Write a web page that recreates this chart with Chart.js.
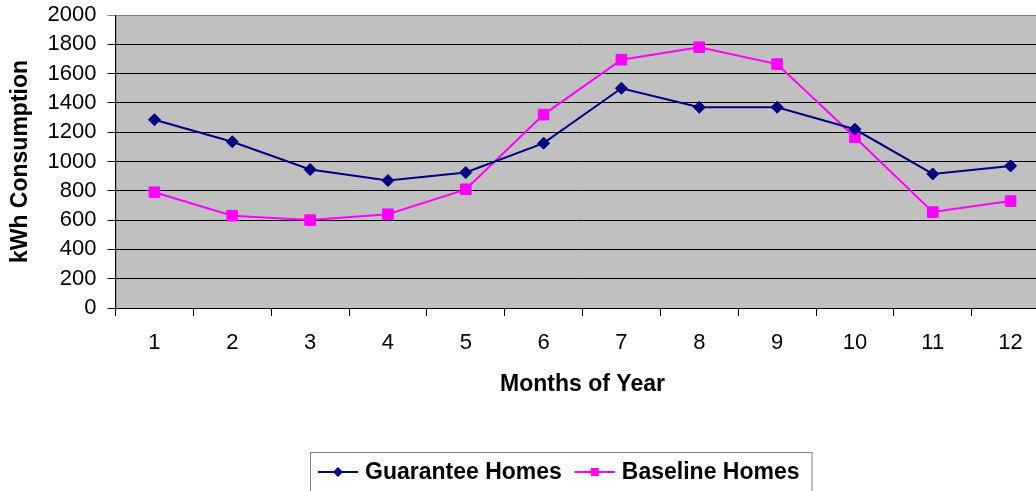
<!DOCTYPE html>
<html>
<head>
<meta charset="utf-8">
<script src="https://cdn.jsdelivr.net/npm/chart.js@4/dist/chart.umd.min.js"></script>
<style>
  html, body { margin: 0; padding: 0; background: #fff; overflow: hidden; }
  canvas { display: block; }
</style>
</head>
<body>
<!-- canvas is a bit wider than the window: the plot area runs past the right edge, as in the original -->
<canvas id="chartKwh" width="1058" height="491"></canvas>
<script>
// data
const months = ["1", "2", "3", "4", "5", "6", "7", "8", "9", "10", "11", "12"];
const guaranteeHomes = [1285, 1135, 945, 870, 925, 1125, 1500, 1370, 1370, 1220, 915, 970];
const baselineHomes = [790, 630, 600, 640, 810, 1320, 1695, 1780, 1665, 1165, 655, 730];
const yTicks = { min: 0, max: 2000, step: 200 };

const FONT = "'Liberation Sans', Arial, sans-serif";

// gray plot background + border
const plotBg = {
  id: "plotBg",
  beforeDraw(chart) {
    const { ctx, chartArea: a } = chart;
    ctx.save();
    ctx.fillStyle = "#C0C0C0";
    ctx.fillRect(a.left, a.top, a.right - a.left, a.bottom - a.top);
    ctx.strokeStyle = "#808080";
    ctx.lineWidth = 1;
    ctx.strokeRect(a.left + 0.5, a.top + 0.5, a.right - a.left, a.bottom - a.top);
    ctx.restore();
  }
};

// legend in a box, line + marker like the original
const boxLegend = {
  id: "boxLegend",
  afterDraw(chart) {
    const ctx = chart.ctx;
    const y = 472;
    const boxLeft = 310;
    let x = 318;
    ctx.save();
    ctx.font = "bold 23px " + FONT;
    ctx.textBaseline = "middle";
    ctx.textAlign = "left";
    chart.data.datasets.forEach(ds => {
      ctx.strokeStyle = ds.borderColor;
      ctx.lineWidth = 2;
      ctx.beginPath();
      ctx.moveTo(x, y);
      ctx.lineTo(x + 40, y);
      ctx.stroke();
      ctx.fillStyle = ds.pointBackgroundColor;
      ctx.beginPath();
      if (ds.pointStyle === "rectRot") {
        ctx.moveTo(x + 20, y - 5); ctx.lineTo(x + 25, y); ctx.lineTo(x + 20, y + 5); ctx.lineTo(x + 15, y);
      } else {
        ctx.rect(x + 16, y - 4, 8, 8);
      }
      ctx.closePath();
      ctx.fill();
      ctx.fillStyle = "#000";
      ctx.fillText(ds.label, x + 47, y + 1);
      x += 47 + ctx.measureText(ds.label).width + 13;
    });
    ctx.strokeStyle = "#808080";
    ctx.lineWidth = 1;
    ctx.strokeRect(boxLeft + 0.5, 452.5, x - 1 - boxLeft, 60);
    ctx.restore();
  }
};

new Chart(document.getElementById("chartKwh"), {
  type: "line",
  data: {
    labels: months,
    datasets: [{
      label: "Guarantee Homes",
      data: guaranteeHomes,
      borderColor: "#000080",
      backgroundColor: "#000080",
      pointBackgroundColor: "#000080",
      pointBorderColor: "#000080",
      borderWidth: 2,
      pointStyle: "rectRot",
      pointRadius: 6,
      pointBorderWidth: 1,
      tension: 0,
      fill: false
    }, {
      label: "Baseline Homes",
      data: baselineHomes,
      borderColor: "#FF00FF",
      backgroundColor: "#FF00FF",
      pointBackgroundColor: "#FF00FF",
      pointBorderColor: "#FF00FF",
      borderWidth: 2,
      pointStyle: "rect",
      pointRadius: 7.5,
      pointBorderWidth: 1,
      tension: 0,
      fill: false
    }]
  },
  options: {
    responsive: false,
    animation: false,
    layout: { padding: { left: 7, top: 15, right: 1, bottom: 93 } },
    plugins: {
      legend: { display: false },
      tooltip: { enabled: false }
    },
    scales: {
      x: {
        offset: true,
        grid: { offset: true, drawOnChartArea: false, drawTicks: true, tickLength: 8, color: "#000" },
        border: { color: "#000", width: 1 },
        ticks: { color: "#000", padding: 14, font: { family: FONT, size: 22 }, maxRotation: 0 },
        title: {
          display: true, text: "Months of Year", color: "#000",
          font: { family: FONT, size: 23, weight: "bold" },
          padding: { top: 0, bottom: 0 }
        }
      },
      y: {
        min: yTicks.min,
        max: yTicks.max,
        grid: {
          color: c => (c.tick && c.tick.value === yTicks.max ? "#808080" : "#000"),
          tickLength: 8,
          lineWidth: 1
        },
        border: { color: "#000", width: 1 },
        ticks: {
          stepSize: yTicks.step,
          autoSkip: false,
          color: "#000",
          padding: 11,
          font: { family: FONT, size: 22, lineHeight: 0.3 },
          callback: v => String(v)
        },
        title: {
          display: true, text: "kWh Consumption", color: "#000",
          font: { family: FONT, size: 23, weight: "bold" },
          padding: { top: 0, bottom: 2 }
        }
      }
    }
  },
  plugins: [plotBg, boxLegend]
});
</script>
</body>
</html>
